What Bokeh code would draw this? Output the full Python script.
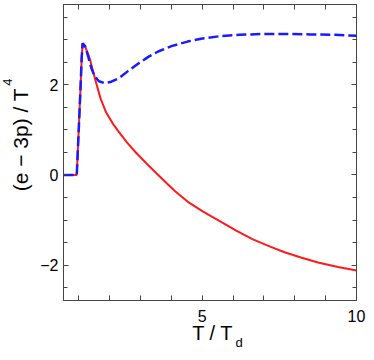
from bokeh.plotting import figure
from bokeh.models import LinearAxis, FixedTicker, Range1d
from bokeh.embed import file_html
from bokeh.resources import INLINE

# ---- data ----
red_x = [0.5, 0.93, 1.0, 1.05, 1.09, 1.12, 1.2, 1.3, 1.36, 1.45, 1.56, 1.7, 1.88, 2.1,
         2.3, 2.55, 2.83, 3.2, 3.57, 4.1, 4.52, 5.0, 5.58, 6.1, 6.64, 7.2, 7.69,
         8.2, 8.75, 9.4, 10.0]
red_y = [0.0, 0.0, 1.1, 1.9, 2.6, 2.92, 2.85, 2.68, 2.56, 2.32, 2.04, 1.7, 1.39, 1.14,
         0.95, 0.73, 0.51, 0.25, 0.0, -0.35, -0.59, -0.80, -1.03, -1.235, -1.43, -1.59,
         -1.72, -1.83, -1.94, -2.04, -2.12]

blue_x = [0.5, 0.93, 1.0, 1.05, 1.09, 1.12, 1.2, 1.3, 1.4, 1.51, 1.65, 1.83, 2.05, 2.3,
          2.6, 2.94, 3.25, 3.57, 4.0, 4.52, 5.0, 5.57, 6.2, 7.0, 7.69, 8.5, 9.3, 10.0]
blue_y = [0.0, 0.0, 1.1, 1.9, 2.6, 2.92, 2.86, 2.63, 2.38, 2.19, 2.08, 2.04, 2.07, 2.15,
          2.31, 2.48, 2.62, 2.74, 2.86, 2.96, 3.03, 3.08, 3.11, 3.13, 3.13, 3.12, 3.11, 3.09]

x_ticks = [1, 2, 3, 4, 5, 6, 7, 8, 9, 10]
x_tick_labels = {5: "5", 10: "10"}
y_major_ticks = [-2, 0, 2]
y_minor_ticks = [-2.5, -1.5, -1, -0.5, 0.5, 1, 1.5, 2.5, 3, 3.5]

# axis titles: text, and the data position each part is centred on
x_label = "T / T"
x_label_sub = "d"
y_label = "(e \u2212 3p) / T"
y_label_sup = "4"
x_label_at = 5.338
x_label_sub_at = 6.19
y_label_at = 0.784
y_label_sup_at = 2.058

FONT = "Liberation Sans"
AXC = "#444444"

p = figure(width=366, height=352, output_backend="svg", toolbar_location=None,
           x_range=Range1d(0.5, 10.0), y_range=Range1d(-2.785, 3.783),
           min_border_left=60, min_border_right=10, min_border_top=4,
           min_border_bottom=49)
p.grid.visible = False
p.outline_line_color = AXC
p.background_fill_color = "white"
p.border_fill_color = "white"

p.line(red_x, red_y, line_color="#ff1a1a", line_width=2)
p.line(blue_x, blue_y, line_color="#1a1aff", line_width=2.5, line_dash="10 4")

def style(ax):
    ax.axis_line_color = AXC
    ax.major_tick_line_color = AXC
    ax.minor_tick_line_color = AXC
    ax.major_tick_in = 5
    ax.major_tick_out = 0
    ax.minor_tick_in = 4
    ax.minor_tick_out = 0
    ax.major_label_text_font = FONT
    ax.major_label_text_font_size = "16px"
    ax.major_label_text_color = "black"

def text_axis(text, at, size, standoff, vertical=False):
    ax = LinearAxis(ticker=FixedTicker(ticks=[at], minor_ticks=[]),
                    major_label_overrides={at: text},
                    major_label_standoff=standoff,
                    major_label_text_font=FONT, major_label_text_font_size=size,
                    major_label_text_color="black",
                    axis_line_color=None, major_tick_line_color=None,
                    minor_tick_line_color=None,
                    major_tick_in=0, major_tick_out=0,
                    minor_tick_in=0, minor_tick_out=0)
    if vertical:
        ax.major_label_orientation = "vertical"
    return ax

xt = FixedTicker(ticks=x_ticks, minor_ticks=[])
yt = FixedTicker(ticks=y_major_ticks, minor_ticks=y_minor_ticks)

xa = p.xaxis[0]
xa.ticker = xt
xa.major_label_overrides = {t: x_tick_labels.get(t, "") for t in x_ticks}
xa.major_label_standoff = 9
style(xa)

ya = p.yaxis[0]
ya.ticker = yt
ya.major_label_standoff = 5
style(ya)

top = LinearAxis(ticker=xt, major_label_overrides={t: "" for t in x_ticks},
                 major_label_standoff=0)
style(top)
p.add_layout(top, "above")
right = LinearAxis(ticker=yt, major_label_overrides={t: "" for t in y_major_ticks},
                   major_label_standoff=0)
style(right)
p.add_layout(right, "right")

p.add_layout(text_axis(x_label, x_label_at, "20px", -3), "below")
p.add_layout(text_axis(x_label_sub, x_label_sub_at, "13px", -12), "below")
p.add_layout(text_axis(y_label, y_label_at, "21px", 5, vertical=True), "left")
p.add_layout(text_axis(y_label_sup, y_label_sup_at, "13px", -6, vertical=True), "left")

open("out.html", "w").write(file_html(p, INLINE))
